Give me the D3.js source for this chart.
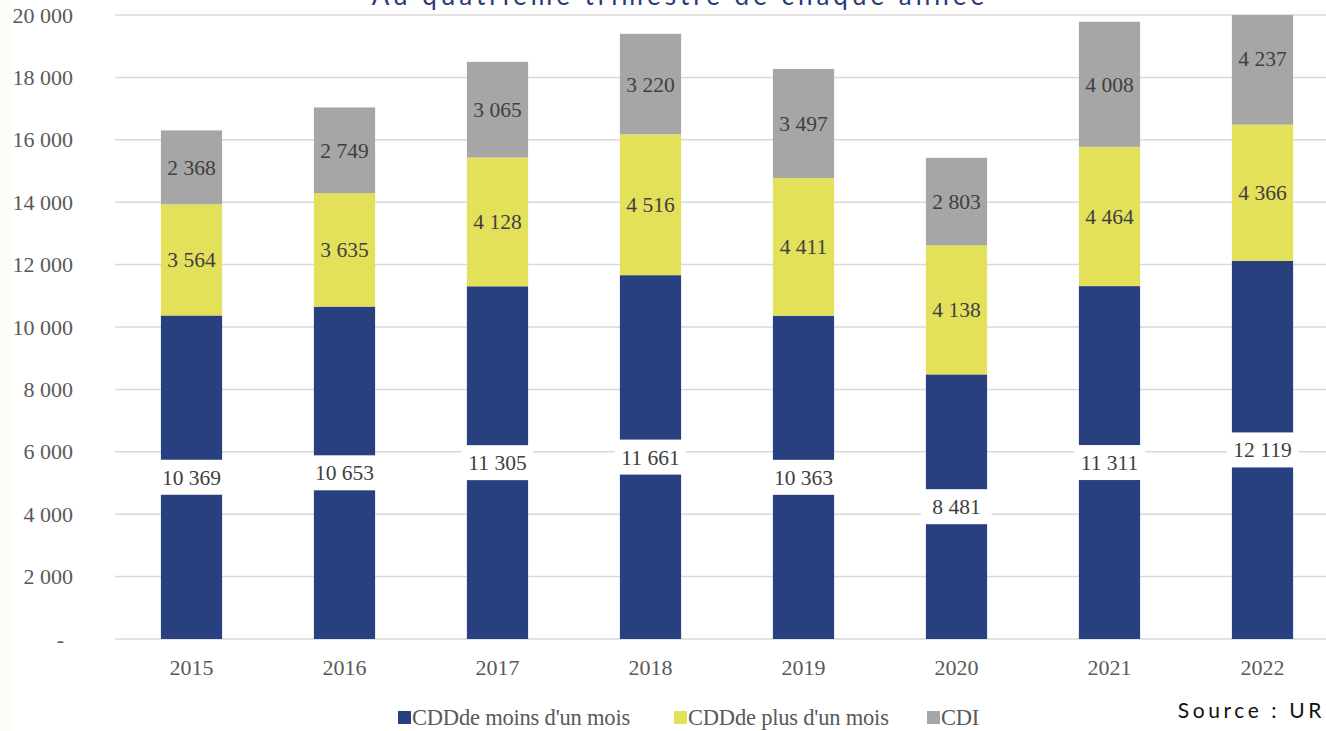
<!DOCTYPE html>
<html><head><meta charset="utf-8">
<script src="https://cdn.jsdelivr.net/npm/d3@7"></script>
<style>html,body{margin:0;padding:0;background:#fff;overflow:hidden}
.serif{font-family:'Liberation Serif','Times New Roman',Times,serif}
.sans{font-family:'Lato','Open Sans',sans-serif}</style>
</head><body>
<svg id="c" width="1326" height="731"></svg>
<script>
const years = ["2015","2016","2017","2018","2019","2020","2021","2022"];
const cddMoins = [10369,10653,11305,11661,10363,8481,11311,12119];
const cddPlus = [3564,3635,4128,4516,4411,4138,4464,4366];
const cdi = [2368,2749,3065,3220,3497,2803,4008,4237];
const seriesNames = ["CDDde moins d'un mois","CDDde plus d'un mois","CDI"];
const colors = ["#283f80","#e3e05a","#a6a6a6"];
const yTicks = [0,2000,4000,6000,8000,10000,12000,14000,16000,18000,20000];
const title = "Au quatrième trimestre de chaque année";
const source = "Source : UR";

const svg = d3.select("#c");
svg.append("rect").attr("x",0).attr("y",0).attr("width",11).attr("height",731).attr("fill","#fcfbf8");

const x = d3.scaleBand().domain(years).range([115,1339]).paddingInner(0.6).paddingOuter(0.3);
const y = d3.scaleLinear().domain([0,20000]).range([639,15]);
const fmt = v => v===0 ? "-" : d3.format(",")(v).replace(/,/g," ");

// grid
svg.append("g").selectAll("line").data(yTicks).join("line")
  .attr("x1",115).attr("x2",1326).attr("y1",d=>y(d)).attr("y2",d=>y(d))
  .attr("stroke","#d9d9d9").attr("stroke-width",1.5);

// y axis labels
const yAxis = d3.axisLeft(y).tickValues(yTicks).tickFormat(fmt).tickSize(0).tickPadding(0);
const yg = svg.append("g").attr("transform","translate(73,0)").call(yAxis);
yg.attr("font-family",null).attr("font-size",null);
yg.select(".domain").remove();
yg.selectAll("text").attr("class","serif").style("font-size","22px").attr("fill","#595959").attr("dy","0.32em");
yg.selectAll("text").filter(d=>d===0).attr("dx",-9);

// x axis labels
const xAxis = d3.axisBottom(x).tickSize(0).tickPadding(0);
const xg = svg.append("g").attr("transform","translate(0,668)").call(xAxis);
xg.attr("font-family",null).attr("font-size",null);
xg.select(".domain").remove();
xg.selectAll("text").attr("class","serif").style("font-size","22px").attr("fill","#595959").attr("dy","0.32em");

// stacked data
const rows = years.map((yr,i)=>({year:yr, a:cddMoins[i], b:cddPlus[i], c:cdi[i]}));
const stack = d3.stack().keys(["a","b","c"])(rows);

const defs = svg.append("defs");
defs.append("clipPath").attr("id","plot").append("rect").attr("x",0).attr("y",15).attr("width",1326).attr("height",700);

const gBars = svg.append("g").attr("clip-path","url(#plot)");
stack.forEach((s,si)=>{
  gBars.append("g").selectAll("rect").data(s).join("rect")
    .attr("x",d=>x(d.data.year)).attr("width",x.bandwidth())
    .attr("y",d=>y(d[1])).attr("height",d=>y(d[0])-y(d[1]))
    .attr("fill",colors[si]);
});

// labels
stack.forEach((s,si)=>{
  const g = svg.append("g");
  s.forEach(d=>{
    const v = d[1]-d[0];
    const cx = x(d.data.year)+x.bandwidth()/2;
    const cy = y((d[0]+d[1])/2);
    if(si===0){
      g.append("rect").attr("x",cx-35.5).attr("y",cy-17.5).attr("width",71).attr("height",35).attr("fill","#fff");
    }
    g.append("text").attr("x",cx).attr("y",cy).attr("dy","0.35em").attr("text-anchor","middle")
      .attr("class","serif").style("font-size","21.5px").attr("fill","#404040").text(fmt(v));
  });
});

// title
svg.append("text").attr("x",680).attr("y",5).attr("text-anchor","middle")
  .attr("class","sans").style("font-size","26px").attr("letter-spacing",4).attr("fill","#2a3a7a").text(title);

// legend
const legX = [398,674,927];
seriesNames.forEach((n,i)=>{
  svg.append("rect").attr("x",legX[i]).attr("y",711).attr("width",13).attr("height",13).attr("fill",colors[i]);
  svg.append("text").attr("x",legX[i]+14).attr("y",725).attr("class","serif").style("font-size","22.5px")
    .attr("letter-spacing",-0.2).attr("fill","#595959").text(n);
});

// source
svg.append("text").attr("x",1325).attr("y",718).attr("text-anchor","end")
  .attr("class","sans").style("font-size","21px").attr("letter-spacing",3.6).attr("fill","#111").text(source);
</script>
</body></html>
